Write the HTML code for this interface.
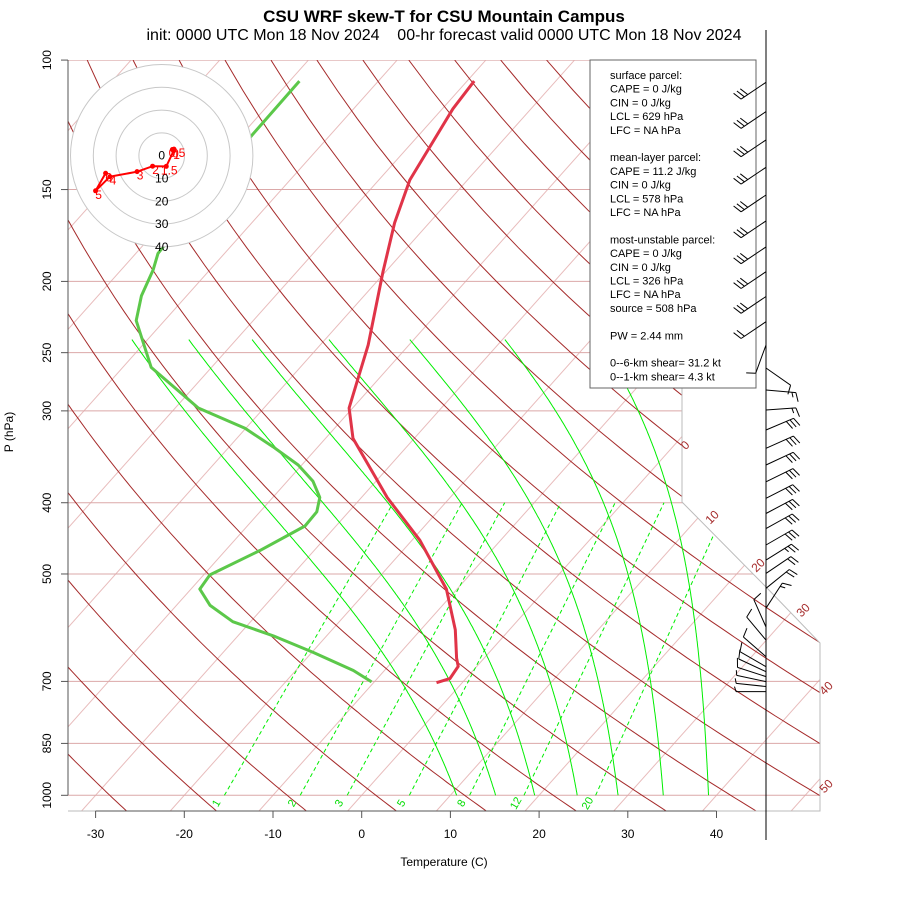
<!DOCTYPE html>
<html><head><meta charset="utf-8"><style>
html,body{margin:0;padding:0;background:#fff;}
svg{display:block;font-family:"Liberation Sans",Arial,sans-serif;}
</style></head><body>
<svg id="chart" width="900" height="900" viewBox="0 0 900 900" xmlns="http://www.w3.org/2000/svg">
<defs><clipPath id="diag"><polygon points="68,60 682,60 682,502 767,588 820,643 820,811 68,811"/></clipPath></defs>
<rect width="900" height="900" fill="#fff"/>
<text x="444" y="22" text-anchor="middle" font-size="17" font-weight="bold">CSU WRF skew-T for CSU Mountain Campus</text>
<text x="444" y="40" text-anchor="middle" font-size="16" xml:space="preserve">init: 0000 UTC Mon 18 Nov 2024    00-hr forecast valid 0000 UTC Mon 18 Nov 2024</text>
<g id="grid" clip-path="url(#diag)"></g>
<polyline points="682,60 682,502 767,588 820,643 820,811 68,811" fill="none" stroke="#bbb" stroke-width="1"/>
<g id="labels"></g>
<g id="profiles"></g>
<g id="hodo"></g>
<g id="legend">
<rect x="590" y="60" width="166" height="328" fill="#fff" stroke="#666" stroke-width="1"/>
</g>
<line x1="766" y1="30" x2="766" y2="840" stroke="#000" stroke-width="1"/>
<g id="barbs"></g>
<g id="axes"></g>
<text x="444" y="866" text-anchor="middle" font-size="12">Temperature (C)</text>
<text transform="translate(13,432) rotate(-90)" text-anchor="middle" font-size="12">P (hPa)</text>
</svg>
<script>
// ---------- data ----------
var tempP = [106.8,116.5,145.6,166.5,194,244,297.3,327,393.5,450,524.3,595.6,651,667.8,693.8,702.8];
var tempT = [-59.2,-58.8,-56.5,-53.9,-50.3,-44.6,-40.4,-36.9,-27.1,-19.1,-11.2,-6.1,-3.1,-2.1,-1.8,-2.9];
var dewP = [106.8,126.6,183.2,192.8,209.3,226.1,261.8,297.3,316.8,335.6,355.4,374,393.5,411.5,430.2,464.4,501.4,524.3,551.7,580.6,607,638.8,676.4,701];
var dewT = [-78.9,-78.8,-77.5,-76.4,-75.1,-73.2,-66.8,-57.4,-50.1,-45.1,-40.4,-37.1,-34.7,-33.6,-33.5,-36.1,-39.3,-39.0,-36.2,-32.0,-26.0,-19.9,-13.5,-10.3];
var hodoLabels = ["0","0.5","1","1.5","2","3","4","5","6"];
var hodoU = [4.7,5.4,5.2,2.0,-4.0,-10.8,-22.7,-29.0,-24.6];
var hodoV = [2.7,2.9,2.1,-4.7,-4.6,-7.0,-9.2,-15.4,-7.7];
var barbP = [107.2,117.5,128.4,139.9,152.6,165.5,179.5,194.0,209.7,226.9,244.1,262.3,281.0,299.2,318.5,337.3,355.4,374.6,394.5,413.7,433.7,456.6,478.7,499.1,523,556.6,590.3,615.0,647.8,668.5,679.0,689.6,700.5,711.3,722.7];
var barbDir = [236,236,236,236,236,236,236,236,236,236,200,125,95,86,67,66,65,64,63,62,61,60,58,56,51,33,336,320,311,300,295,288,282,276,270];
var barbSpd = [30,30,30,30,30,30,30,30,30,20,10,10,15,15,30,30,30,30,30,30,30,30,25,20,20,15,10,10,10,10,10,10,5,5,5];
var pressTicks = [100,150,200,250,300,400,500,700,850,1000];
var tempTicks = [-30,-20,-10,0,10,20,30,40];
var isoTherms = [-110,-100,-90,-80,-70,-60,-50,-40,-30,-20,-10,0,10,20,30,40,50];
var isoLabelVals = [0,10,20,30,40,50];
var thetaC = [-38.4,-28.4,-18.4,-8.4,1.6,11.6,21.6,31.6,41.6,51.6,61.6,71.6,81.6,91.6,101.6,111.6,121.6,131.6,141.6,151.6,161.6,171.6,181.6,191.6];
var moistT0 = [10.7,15.1,19.5,24.3,28.9,34.0,39.1];
var mixW = [1,2,3,5,8,12,20];
var hodoRings = [10,20,30,40];

// ---------- scales ----------
var NS="http://www.w3.org/2000/svg";
function dsk(p){return 319.3*Math.log(1000/p);}
function ys(p){return 795.3-dsk(p);}
function xs(T,p){return 361.7+8.87*T+0.8927*dsk(p);}
function mk(tag,attrs,parent){var e=document.createElementNS(NS,tag);for(var k in attrs)e.setAttribute(k,attrs[k]);parent.appendChild(e);return e;}
function path(pts){return pts.map(function(q,i){return (i?"L":"M")+q[0].toFixed(1)+","+q[1].toFixed(1);}).join("");}
var grid=document.getElementById("grid");
var labels=document.getElementById("labels");

isoTherms.forEach(function(T){
  var e=mk("line",{x1:xs(T,1050),y1:ys(1050),x2:xs(T,100),y2:ys(100),stroke:"#e8bcbc","stroke-width":1},grid);
  
  
});
pressTicks.forEach(function(p){
  var e=mk("line",{x1:68,y1:ys(p),x2:820,y2:ys(p),stroke:"#dba8a8","stroke-width":1},grid);
  
  
});
thetaC.forEach(function(th){
  var pts=[];for(var p=1050;p>=100;p-=10){pts.push([xs((th+273.15)*Math.pow(p/1000,0.2857)-273.15,p),ys(p)]);}
  var e=mk("path",{d:path(pts),fill:"none",stroke:"#a52a2a","stroke-width":1},grid);
  
  
});
function es(Tc){return 6.112*Math.exp(17.67*Tc/(Tc+243.5));}
moistT0.forEach(function(T0){
  var T=T0+273.15,pts=[[xs(T0,1000),ys(1000)]];
  var fac=0.86-0.011*(T0-10);
  for(var p=1000;p>240;p-=2){
    var e1=es(T-273.15),rs=fac*0.622*e1/(p-e1);
    var dTdp=(287*T+2.5e6*rs)/(p*(1004+2.5e6*2.5e6*rs*0.622/(287*T*T)));
    T-=dTdp*2;pts.push([xs(T-273.15,p-2),ys(p-2)]);
  }
  var e=mk("path",{d:path(pts),fill:"none",stroke:"#00ee00","stroke-width":1},grid);
  
  
});
function tdw(w,p){var e=(w/1000)*p/(0.622+w/1000);var l=Math.log(e/6.112);return 243.5*l/(17.67-l)+1.65;}
mixW.forEach(function(w){
  var e=mk("line",{x1:xs(tdw(w,1000),1000),y1:ys(1000),x2:xs(tdw(w,400),400),y2:ys(400),stroke:"#00ee00","stroke-width":1,"stroke-dasharray":"4,3"},grid);
  
  
  var x=xs(tdw(w,1000),1000)-5,y=805;
  var t=mk("text",{x:x,y:y,fill:"#00dd00","font-size":11,"text-anchor":"middle",transform:"rotate(-60 "+x+" "+y+")"},labels);
  t.textContent=String(w);
  
  
});
var isoLabPos=[[688,448],[715,520],[761,568],[806,613],[829,691],[829,789]];
isoLabelVals.forEach(function(v,i){
  var q=isoLabPos[i];
  var t=mk("text",{x:q[0],y:q[1],fill:"#a52a2a","font-size":12,"text-anchor":"middle",transform:"rotate(-45 "+q[0]+" "+q[1]+")"},labels);
  t.textContent=String(v);
  
  
});

var prof=document.getElementById("profiles");
var dl=mk("path",{d:path(dewP.map(function(p,i){return [xs(dewT[i],p),ys(p)];})),fill:"none",stroke:"#5cc84a","stroke-width":3,"stroke-linejoin":"round"},prof);


var tl=mk("path",{d:path(tempP.map(function(p,i){return [xs(tempT[i],p),ys(p)];})),fill:"none",stroke:"#e03448","stroke-width":3,"stroke-linejoin":"round"},prof);



var hodo=document.getElementById("hodo"),hcx=161.7,hcy=155.7,hs=2.28;
var bg=mk("circle",{cx:hcx,cy:hcy,r:40*hs,fill:"#fff",stroke:"none"},hodo);


hodoRings.forEach(function(r){
  var c=mk("circle",{cx:hcx,cy:hcy,r:r*hs,fill:"none",stroke:"#c8c8c8","stroke-width":1},hodo);
  
  
});
[0].concat(hodoRings).forEach(function(r){
  var t=mk("text",{x:hcx,y:hcy+r*hs+4,"font-size":12,"text-anchor":"middle",fill:"#000"},hodo);
  t.textContent=String(r);
  
  
});
var hl=mk("path",{d:path(hodoU.map(function(u,i){return [hcx+u*hs,hcy-hodoV[i]*hs];})),fill:"none",stroke:"#ff0000","stroke-width":2},hodo);


hodoU.forEach(function(u,i){
  var x=hcx+u*hs,y=hcy-hodoV[i]*hs;
  var c=mk("circle",{cx:x,cy:y,r:2.5,fill:"#ff0000"},hodo);
  
  
  var t=mk("text",{x:x+3,y:y+8,"font-size":12,fill:"#ff0000","text-anchor":"middle"},hodo);
  t.textContent=hodoLabels[i];
  
  
});

var leg=document.getElementById("legend");
var legLines=["surface parcel:","CAPE = 0 J/kg","CIN = 0 J/kg","LCL = 629 hPa","LFC = NA hPa","","mean-layer parcel:","CAPE = 11.2 J/kg","CIN = 0 J/kg","LCL = 578 hPa","LFC = NA hPa","","most-unstable parcel:","CAPE = 0 J/kg","CIN = 0 J/kg","LCL = 326 hPa","LFC = NA hPa","source = 508 hPa","","PW =  2.44 mm","","0--6-km shear= 31.2 kt","0--1-km shear= 4.3 kt"];
legLines.forEach(function(s,i){
  if(!s)return;
  var t=mk("text",{x:610,y:79+i*13.7,"font-size":11,"xml:space":"preserve"},leg);
  t.textContent=s;
  
  
});

var bgp=document.getElementById("barbs");
barbP.forEach(function(p,i){
  var a=barbDir[i]*Math.PI/180,L=30,bx=766,by=ys(p);
  var ux=Math.sin(a),uy=-Math.cos(a);
  var tx=bx+ux*L,ty=by+uy*L;
  var px=-uy,py=ux;
  var d="M"+bx+","+by.toFixed(1)+"L"+tx.toFixed(1)+","+ty.toFixed(1);
  var s=barbSpd[i],k=0;
  while(s>=10){var sx=tx-ux*k*4,sy=ty-uy*k*4;d+="M"+sx.toFixed(1)+","+sy.toFixed(1)+"l"+((px*9+ux*3)).toFixed(1)+","+((py*9+uy*3)).toFixed(1);s-=10;k++;}
  if(s>=5){var sx2=tx-ux*k*4,sy2=ty-uy*k*4;d+="M"+sx2.toFixed(1)+","+sy2.toFixed(1)+"l"+((px*5+ux*1.5)).toFixed(1)+","+((py*5+uy*1.5)).toFixed(1);}
  var e=mk("path",{d:d,fill:"none",stroke:"#000","stroke-width":1},bgp);
  
  
});

var ax=document.getElementById("axes");
var la=mk("line",{x1:68,y1:60,x2:68,y2:795.3,stroke:"#555","stroke-width":1},ax);


pressTicks.forEach(function(p){
  var y=ys(p);
  var tk=mk("line",{x1:61,y1:y,x2:68,y2:y,stroke:"#555","stroke-width":1},ax);
  
  
  var t=mk("text",{x:51,y:y,"font-size":12,"text-anchor":"middle",transform:"rotate(-90 51 "+y.toFixed(1)+")"},ax);
  t.textContent=String(p);
  
  
});
var ba=mk("line",{x1:xs(-30,1000),y1:811,x2:xs(40,1000),y2:811,stroke:"#555","stroke-width":1},ax);


tempTicks.forEach(function(T){
  var x=xs(T,1000);
  var tk=mk("line",{x1:x,y1:811,x2:x,y2:818,stroke:"#555","stroke-width":1},ax);
  
  
  var t=mk("text",{x:x,y:838,"font-size":12,"text-anchor":"middle"},ax);
  t.textContent=String(T);
  
  
});
</script>
</body></html>
